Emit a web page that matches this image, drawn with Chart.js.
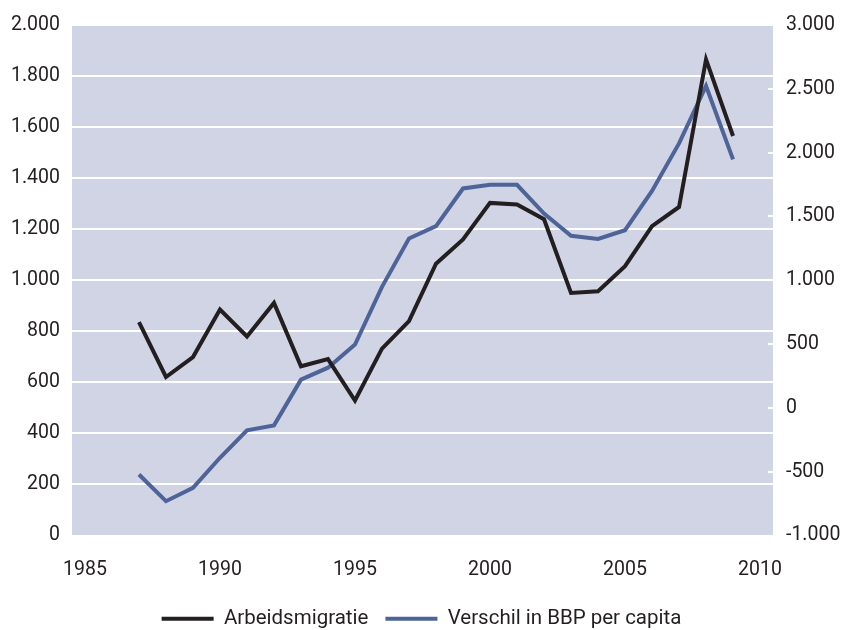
<!DOCTYPE html>
<html>
<head>
<meta charset="utf-8">
<script src="https://cdn.jsdelivr.net/npm/chart.js@4"></script>
<style>
  html, body { margin: 0; padding: 0; background: #ffffff; }
  #wrap { width: 843px; height: 630px; }
</style>
</head>
<body>
<div id="wrap"><canvas id="chart" width="843" height="630"></canvas></div>
<script>
// values
const years = [1987, 1988, 1989, 1990, 1991, 1992, 1993, 1994, 1995, 1996, 1997, 1998,
  1999, 2000, 2001, 2002, 2003, 2004, 2005, 2006, 2007, 2008, 2009];
const arbeidsmigratie = [836, 621, 699, 885, 780, 911, 663, 691, 529, 732, 840, 1065,
  1160, 1303, 1297, 1239, 950, 957, 1055, 1212, 1287, 1865, 1565];
const verschilBBP = [-522, -731, -626, -391, -176, -137, 221, 315, 496, 948, 1327, 1424,
  1719, 1748, 1748, 1523, 1348, 1324, 1392, 1700, 2072, 2522, 1947];
const xTicks = [1985, 1990, 1995, 2000, 2005, 2010];

const textColor = "#231f20";
const black = "#231f20";
const blue = "#4e6499";
const plotBg = "#d0d4e5";

// dutch thousands separator
const fmt = function(v){
  return String(v).replace(/\B(?=(\d{3})+(?!\d))/g, ".");
};

const toPoints = function(values){
  return values.map((v, i) => ({ x: years[i], y: v }));
};

/**
 * plot area background
 */
const plotBackground = {
  id: "plotBackground",
  beforeDraw(chart){
    const { ctx, chartArea } = chart;
    ctx.save();
    ctx.fillStyle = plotBg;
    ctx.fillRect(chartArea.left, chartArea.top, chartArea.right - chartArea.left, chartArea.bottom - chartArea.top);
    ctx.restore();
  }
};

const tickFont = { family: "Roboto", size: 19.5 };

const config = {
  type: "line",
  data: {
    datasets: [{
      label: "Arbeidsmigratie",
      data: toPoints(arbeidsmigratie),
      borderColor: black,
      backgroundColor: black,
      borderWidth: 4,
      pointRadius: 0,
      tension: 0,
      yAxisID: "y"
    }, {
      label: "Verschil in BBP per capita",
      data: toPoints(verschilBBP),
      borderColor: blue,
      backgroundColor: blue,
      borderWidth: 4,
      pointRadius: 0,
      tension: 0,
      yAxisID: "y2"
    }]
  },
  options: {
    responsive: false,
    animation: false,
    layout: { padding: { top: 25, left: 0, right: 0, bottom: -9 } },
    plugins: {
      tooltip: { enabled: false },
      legend: {
        position: "bottom",
        labels: {
          color: textColor,
          font: { family: "Roboto", size: 20.5 },
          usePointStyle: true,
          pointStyle: "line",
          pointStyleWidth: 52,
          padding: 17,
          boxHeight: 4
        }
      }
    },
    scales: {
      x: {
        type: "linear",
        min: 1984.52,
        max: 2010.48,
        afterBuildTicks: function(scale){
          scale.ticks = xTicks.map(v => ({ value: v }));
        },
        afterFit: function(scale){ scale.height = 56; },
        grid: { display: false },
        border: { display: false },
        ticks: { color: textColor, font: tickFont, padding: 15, maxRotation: 0, callback: v => String(v) }
      },
      y: {
        position: "left",
        min: 0,
        max: 2000,
        afterFit: function(scale){ scale.width = 72; },
        grid: { color: "#ffffff", lineWidth: 2, drawTicks: false },
        border: { display: false },
        ticks: { stepSize: 200, color: textColor, font: tickFont, padding: 12, callback: v => fmt(v) }
      },
      y2: {
        position: "right",
        min: -1000,
        max: 3000,
        afterFit: function(scale){
          scale.width = 70;
          // label padding should not push the plot area down
          scale.paddingTop = 12;
          scale.paddingBottom = 12;
        },
        // small inward white tick marks at the right edge
        grid: { drawOnChartArea: false, drawTicks: true, tickLength: -5, color: "#ffffff", lineWidth: 2 },
        border: { display: true, color: "#ffffff", width: 1 },
        ticks: { stepSize: 500, color: textColor, font: tickFont, padding: 18, callback: v => fmt(v) }
      }
    }
  },
  plugins: [plotBackground]
};

const chart = new Chart(document.getElementById("chart"), config);
</script>
</body>
</html>
